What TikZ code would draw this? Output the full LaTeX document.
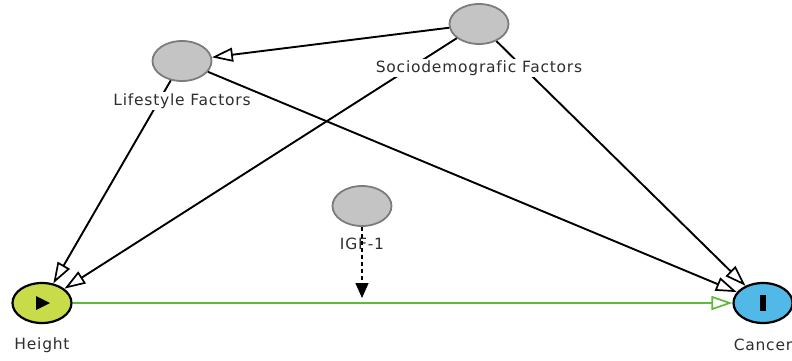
\documentclass[tikz,border=0pt]{standalone}
\usepackage{fontspec}
\newfontfamily\lblfont{DejaVu Sans}[LetterSpace=5, Ligatures=NoCommon]
\usetikzlibrary{arrows.meta,shapes.geometric}
\definecolor{hfill}{HTML}{C8DC4A}
\definecolor{cfill}{HTML}{52B8E8}
\definecolor{gfill}{HTML}{C4C4C4}
\definecolor{gdraw}{HTML}{7C7C7C}
\definecolor{gline}{HTML}{5DBB3A}
\definecolor{txt}{HTML}{2E2E2E}
\begin{document}
\begin{tikzpicture}[x=1pt,y=-1pt,
  ell/.style={ellipse, minimum width=59pt, minimum height=40pt, inner sep=0pt},
  mainn/.style={ell, draw=black, line width=2.2pt},
  grayn/.style={ell, fill=gfill, draw=gdraw, line width=1.8pt},
  lbl/.style={fill=white, inner xsep=3pt, inner ysep=1.5pt, text=txt,
    font=\lblfont\fontsize{15.5}{18}\selectfont},
  cause/.style={line width=1.9pt, black,
    -{Triangle[open, length=21pt, width=14pt, line width=1.7pt]}},
  effect/.style={line width=1.8pt, gline,
    -{Triangle[open, length=21pt, width=14pt, line width=1.7pt]}},
  igfedge/.style={line width=1.5pt, dash pattern=on 4pt off 3pt,
    -{Triangle[length=15pt, width=13pt]}},
]
\useasboundingbox (0,0) rectangle (792,360);
% nodes
\node[mainn, fill=hfill] (h) at (42,303) {};
\node[mainn, fill=cfill] (c) at (763,303) {};
\node[grayn] (l) at (182,61) {};
\node[grayn] (s) at (479,24) {};
\node[grayn] (i) at (362,206) {};
\coordinate (tgt) at (362,298);
% edges
\draw[cause] (s) -- (l);
\draw[cause] (s) -- (h);
\draw[cause] (s) -- (c);
\draw[cause] (l) -- (h);
\draw[cause] (l) -- (c);
\draw[effect] (h) -- (c);
% labels
\node[lbl] (hl) at (42,345) {Height};
\node[lbl] (cl) at (763,345) {Cancer};
\node[lbl] (ll) at (182,101) {Lifestyle Factors};
\node[lbl] (sl) at (479,68) {Sociodemografic Factors};
\node[lbl, fill=none] (il) at (362,244) {IGF-1};
\draw[igfedge] (i) -- (tgt);
% symbols
\fill (h.center) ++(-6,-7) -- ++(14,7) -- ++(-14,7) -- cycle;
\fill (c.center) ++(-3,-8) rectangle ++(6,16);
\end{tikzpicture}
\end{document}
